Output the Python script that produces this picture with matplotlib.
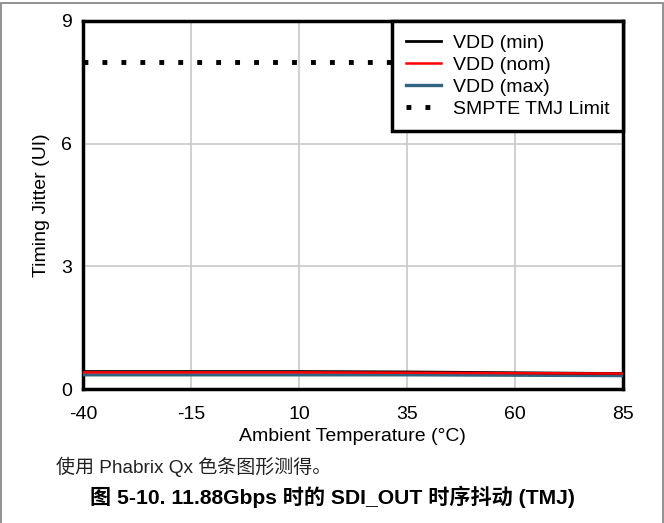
import numpy as np
import matplotlib
matplotlib.use('Agg')
import matplotlib.pyplot as plt
from matplotlib.patches import Rectangle

plt.rcParams['font.family'] = ['Liberation Sans', 'Noto Sans CJK SC', 'DejaVu Sans']
plt.rcParams['axes.unicode_minus'] = False

# data
temps = [-40, -15, 10, 35, 60, 85]
vdd_min = [0.43, 0.43, 0.43, 0.42, 0.40, 0.38]
vdd_nom = [0.41, 0.41, 0.41, 0.40, 0.39, 0.38]
vdd_max = [0.35, 0.35, 0.35, 0.35, 0.34, 0.33]
smpte_limit = [8, 8, 8, 8, 8, 8]
xticks = [-40, -15, 10, 35, 60, 85]
yticks = [0, 3, 6, 9]

fig = plt.figure(figsize=(6.64, 5.23), dpi=100)
ax = fig.add_axes([0.125, 0.256, 0.813, 0.704])

ax.plot(temps, smpte_limit, color='black', lw=3.5, linestyle=(0, (1, 2.9)), label='SMPTE TMJ Limit', zorder=3)
ax.plot(temps, vdd_max, color='#31627f', lw=2.4, label='VDD (max)', zorder=4)
ax.plot(temps, vdd_min, color='black', lw=2.0, label='VDD (min)', zorder=5)
ax.plot(temps, vdd_nom, color='#ff0000', lw=1.8, label='VDD (nom)', zorder=6)

ax.set_xlim(-40, 85)
ax.set_ylim(0, 9)
ax.set_xticks(xticks)
ax.set_yticks(yticks)
ax.tick_params(axis='x', length=0, labelsize=14, pad=12)
ax.tick_params(axis='y', length=0, labelsize=14, pad=8)
ax.grid(True, color='#c8c8c8', lw=1.2)
ax.set_axisbelow(True)
for s in ax.spines.values():
    s.set_linewidth(2.5)
ax.set_xlabel('Ambient Temperature (°C)', fontsize=14, labelpad=4)
ax.set_ylabel('Timing Jitter (UI)', fontsize=14, labelpad=8)

h, l = ax.get_legend_handles_labels()
order = [2, 3, 1, 0]
leg = ax.legend([h[i] for i in order], [l[i] for i in order], loc='upper right',
                borderaxespad=0, fancybox=False, fontsize=14, handlelength=1.8,
                labelspacing=0.22, borderpad=0.7, handletextpad=0.6, framealpha=1)
leg.get_frame().set_edgecolor('black')
leg.get_frame().set_linewidth(2.5)
leg.set_zorder(10)

# page border
fig.patches.append(Rectangle((0.0008, -0.01), 0.9975, 1.005, transform=fig.transFigure,
                             fill=False, edgecolor='#7f7f7f', lw=1.2))

fig.text(0.084, 0.107, '使用 Phabrix Qx 色条图形测得。', fontsize=13.7, color='#222222', va='center')
fig.text(0.5, 0.050, '图 5-10. 11.88Gbps 时的 SDI_OUT 时序抖动 (TMJ)', fontsize=15.2,
         fontweight='bold', ha='center', va='center')

fig.savefig('out.png', dpi=100)
